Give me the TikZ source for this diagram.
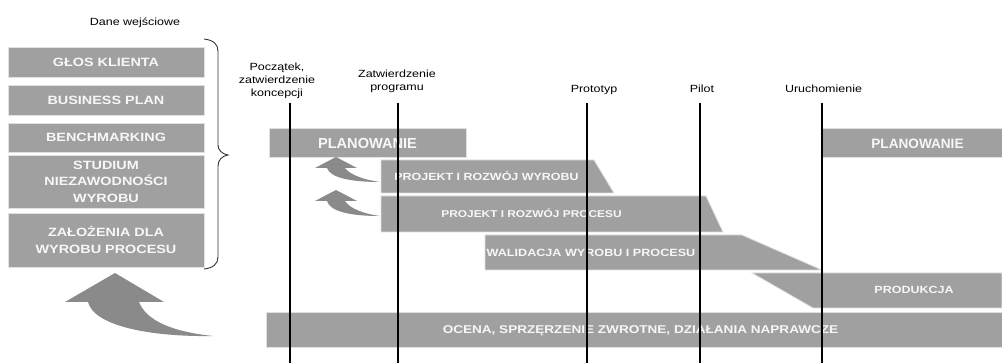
\documentclass[tikz,border=0pt]{standalone}
\usepackage{fontspec}
\newfontfamily\wf[FakeStretch=1.2]{Liberation Sans}
\newfontfamily\nf{Liberation Sans}
\definecolor{barc}{RGB}{160,160,160}
\definecolor{arrc}{RGB}{138,138,138}
\definecolor{txtc}{RGB}{247,247,247}
\definecolor{edgec}{RGB}{225,225,225}
\tikzset{
  bar/.style={fill=barc, draw=edgec, line width=0.8pt},
  lbox/.style={fill=barc, draw=edgec, line width=0.8pt, minimum width=196pt, inner sep=0pt,
    text=txtc, align=center, font=\wf\bfseries\fontsize{12pt}{16.5pt}\selectfont},
  bartext/.style={text=txtc, inner sep=0pt, anchor=base, font=\wf\bfseries\fontsize{#1pt}{#1pt}\selectfont},
  bigtext/.style={text=txtc, inner sep=0pt, anchor=base, font=\nf\bfseries\fontsize{#1pt}{#1pt}\selectfont},
  lab/.style={inner sep=0pt, anchor=base, align=center, font=\wf\fontsize{10.4pt}{13.2pt}\selectfont},
  mline/.style={draw=black, line width=1.6pt},
  arr/.style={fill=arrc},
  bracel/.style={draw=black!80, line width=0.9pt}
}
\begin{document}
\begin{tikzpicture}[x=1pt,y=-1pt]
\useasboundingbox (0,0) rectangle (1002,363);

% title of inputs
\node[lab] (dane) at (135,26) {Dane wejściowe};

% left input boxes
\node[lbox, minimum height=30pt] (glos) at (106,62) {GŁOS KLIENTA};
\node[lbox, minimum height=30pt] (bplan) at (106,100) {BUSINESS PLAN};
\node[lbox, minimum height=29pt] (bench) at (106,137.5) {BENCHMARKING};
\node[lbox, minimum height=53pt] (stud) at (106,181.5) {STUDIUM\\NIEZAWODNOŚCI\\WYROBU};
\node[lbox, minimum height=54pt] (zal) at (106,240) {ZAŁOŻENIA DLA\\WYROBU PROCESU};

% brace
\draw[bracel] (204,39) .. controls (213,40) and (218,44) .. (218,51) -- (218,145)
  .. controls (218,150) and (222,154) .. (228,155)
  .. controls (222,156) and (218,160) .. (218,166) -- (218,257)
  .. controls (218,264) and (213,268) .. (204,269);

% big feedback arrow
\fill[arr] (213,336) .. controls (150,337) and (94,326) .. (88,302) -- (65,302) -- (115,273)
  -- (164,302) -- (139,302) .. controls (147,322) and (175,332) .. (213,336) -- cycle;

% phase bars
\fill[bar] (269,128) rectangle (466,157);
\fill[bar] (822,128) rectangle (1002,157);
\fill[bar] (381,160) -- (594,160) -- (614,193) -- (381,193) -- cycle;
\fill[bar] (381,196) -- (706,196) -- (723,232) -- (381,232) -- cycle;
\fill[bar] (485,235) -- (742,235) -- (822,270) -- (485,270) -- cycle;
\fill[bar] (752,273) -- (1002,273) -- (1002,308) -- (813,308) -- cycle;
\fill[bar] (266,312) rectangle (1002,347);

% small arrows
\fill[arr] (380,182) .. controls (352,182) and (330,178) .. (327,168) -- (315,168) -- (336,157)
  -- (357,168) -- (345,168) .. controls (350,175) and (365,180) .. (380,182) -- cycle;
\fill[arr] (380,216) .. controls (352,216) and (330,212) .. (327,201) -- (315,201) -- (336,190)
  -- (357,201) -- (345,201) .. controls (350,209) and (365,214) .. (380,216) -- cycle;

% bar texts
\node[bigtext=14.6] (plan1) at (367.5,148.2) {PLANOWANIE};
\node[bigtext=13.6] (plan2) at (917.5,148.2) {PLANOWANIE};
\node[bartext=10.4] (pwyr) at (486.5,180.9) {PROJEKT I ROZWÓJ WYROBU};
\node[bartext=9.9] (pproc) at (531.5,217.8) {PROJEKT I ROZWÓJ PROCESU};
\node[bartext=10.5] (wal) at (591,256.3) {WALIDACJA WYROBU I PROCESU};
\node[bartext=10.4] (prod) at (914,293.5) {PRODUKCJA};
\node[bartext=11.3] (ocena) at (640.5,333.2) {OCENA, SPRZĘRZENIE ZWROTNE, DZIAŁANIA NAPRAWCZE};

% milestone labels (base = last line)
\node[lab] (m1l) at (277,96.5) {Początek,\\zatwierdzenie\\koncepcji};
\node[lab] (m2l) at (397,90.5) {Zatwierdzenie\\programu};
\node[lab] (m3l) at (594,93) {Prototyp};
\node[lab] (m4l) at (702,92.7) {Pilot};
\node[lab] (m5l) at (823.5,92.7) {Uruchomienie};

% milestone lines
\foreach \i/\x in {1/290,2/398,3/587,4/700,5/822}{
  \coordinate (t\i) at (\x,103);
  \coordinate (b\i) at (\x,363);
  \draw[mline] (t\i) -- (b\i);
}
\end{tikzpicture}
\end{document}
